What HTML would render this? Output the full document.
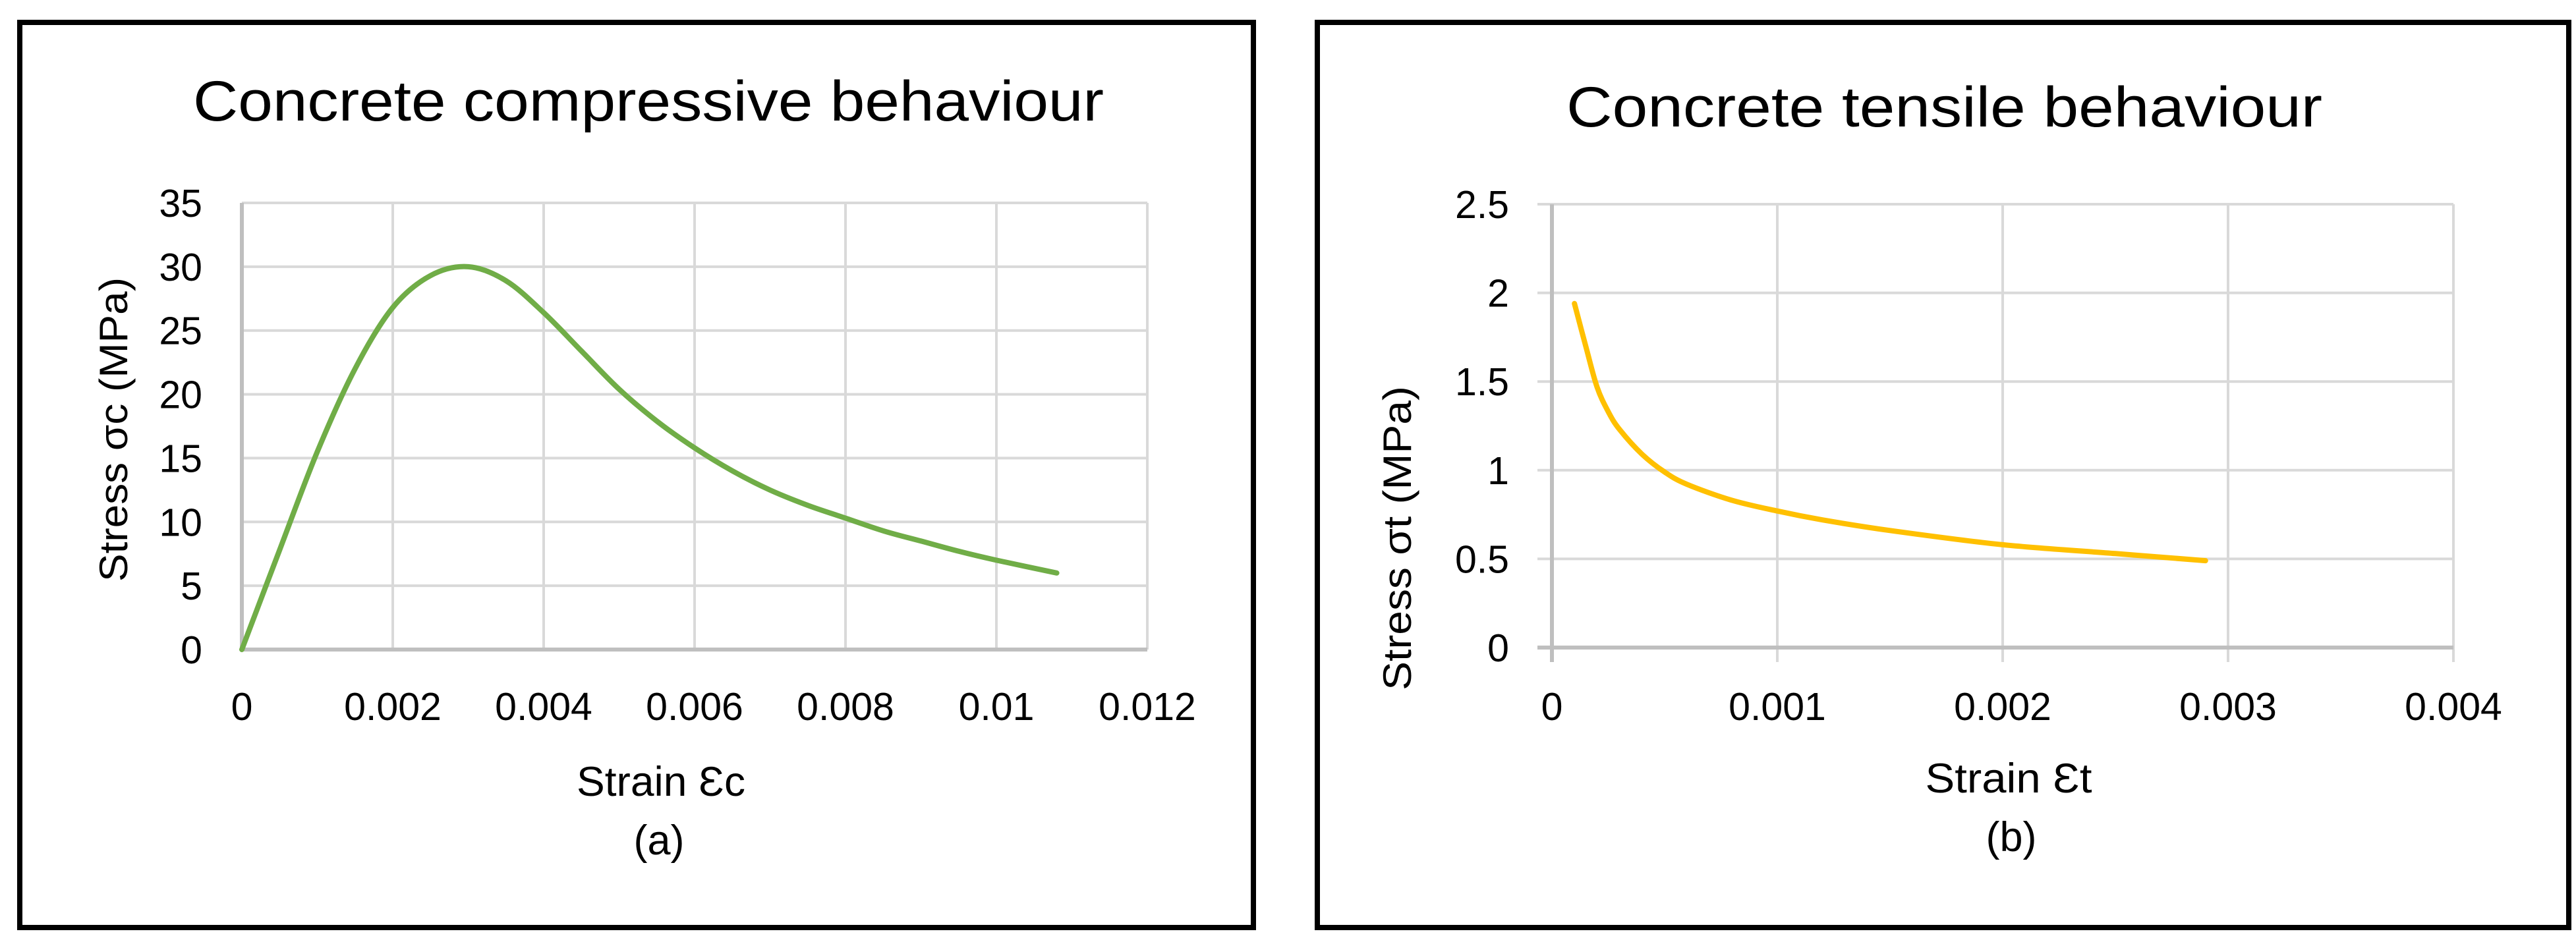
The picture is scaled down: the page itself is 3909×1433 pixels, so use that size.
<!DOCTYPE html>
<html><head><meta charset="utf-8"><style>
html,body{margin:0;padding:0;background:#fff;}
svg{display:block;font-family:"Liberation Sans",sans-serif;}
</style></head><body>
<svg id="fig" width="3909" height="1433" viewBox="0 0 3909 1433" xmlns="http://www.w3.org/2000/svg">
<rect x="30" y="34" width="1872" height="1374" fill="#fff" stroke="#000" stroke-width="8"/>
<rect x="1999" y="34" width="1899" height="1374" fill="#fff" stroke="#000" stroke-width="8"/>
<text x="293" y="183" font-size="86" textLength="1382" lengthAdjust="spacingAndGlyphs" fill="#000">Concrete compressive behaviour</text>
<text x="2377" y="192" font-size="86" textLength="1147" lengthAdjust="spacingAndGlyphs" fill="#000">Concrete tensile behaviour</text>
<text transform="translate(193,652) rotate(-90)" text-anchor="middle" font-size="60" textLength="462" lengthAdjust="spacingAndGlyphs" fill="#000">Stress σc (MPa)</text>
<text transform="translate(2141,817) rotate(-90)" text-anchor="middle" font-size="60" textLength="462" lengthAdjust="spacingAndGlyphs" fill="#000">Stress σt (MPa)</text>
<text x="1003" y="1208" text-anchor="middle" font-size="63" textLength="256" lengthAdjust="spacingAndGlyphs" fill="#000">Strain Ɛc</text>
<text x="1000" y="1297" text-anchor="middle" font-size="63" fill="#000">(a)</text>
<text x="3048" y="1203" text-anchor="middle" font-size="63" textLength="253" lengthAdjust="spacingAndGlyphs" fill="#000">Strain Ɛt</text>
<text x="3052" y="1292" text-anchor="middle" font-size="63" fill="#000">(b)</text>
<g id="ga"></g>
<g id="gb"></g>
</svg>
<script>
const aStrain = [0,0.0005,0.001,0.0015,0.002,0.0025,0.003,0.0035,0.004,0.0045,0.005,0.0055,0.006,0.0065,0.007,0.0075,0.008,0.0085,0.009,0.0095,0.01,0.0108];
const aStress = [0,7.8,15.5,22,26.8,29.3,30,28.9,26.4,23.4,20.4,17.9,15.8,14,12.5,11.3,10.3,9.3,8.5,7.7,7,6];
const aXTicks = ["0","0.002","0.004","0.006","0.008","0.01","0.012"];
const aYTicks = ["0","5","10","15","20","25","30","35"];
const bStrain = [0.0001,0.00015,0.0002,0.00025,0.0003,0.0004,0.0005,0.0006,0.0008,0.001,0.0012,0.0015,0.002,0.0025,0.0029];
const bStress = [1.94,1.7,1.47,1.33,1.23,1.09,0.99,0.92,0.83,0.77,0.72,0.66,0.58,0.53,0.49];
const bXTicks = ["0","0.001","0.002","0.003","0.004"];
const bYTicks = ["0","0.5","1","1.5","2","2.5"];
const NS="http://www.w3.org/2000/svg";
function mk(tag,attrs,parent){const e=document.createElementNS(NS,tag);for(const k in attrs)e.setAttribute(k,attrs[k]);parent.appendChild(e);return e;}
function smoothPath(P){
  let d='M'+P[0][0].toFixed(1)+','+P[0][1].toFixed(1);
  for(let i=0;i<P.length-1;i++){
    const p0=P[Math.max(0,i-1)],p1=P[i],p2=P[i+1],p3=P[Math.min(P.length-1,i+2)];
    const c1=[p1[0]+(p2[0]-p0[0])/6,p1[1]+(p2[1]-p0[1])/6];
    const c2=[p2[0]-(p3[0]-p1[0])/6,p2[1]-(p3[1]-p1[1])/6];
    d+=' C'+c1[0].toFixed(1)+','+c1[1].toFixed(1)+' '+c2[0].toFixed(1)+','+c2[1].toFixed(1)+' '+p2[0].toFixed(1)+','+p2[1].toFixed(1);
  }
  return d;
}
function chart(g,o){
  const sx=v=>o.x0+(v-o.xmin)/(o.xmax-o.xmin)*(o.x1-o.x0);
  const sy=v=>o.y0-(v-o.ymin)/(o.ymax-o.ymin)*(o.y0-o.y1);
  o.yt.forEach((t,i)=>{const v=o.ymin+i*(o.ymax-o.ymin)/(o.yt.length-1);const y=sy(v);
    if(i>0){const l=mk('line',{x1:o.x0-o.tick,x2:o.x1,y1:y,y2:y,stroke:'#d9d9d9','stroke-width':4},g);
      
      }
    const tx=mk('text',{x:o.ylx,y:y+21,'text-anchor':'end','font-size':59,fill:'#000'},g);tx.textContent=t;
    
    });
  o.xt.forEach((t,i)=>{const v=o.xmin+i*(o.xmax-o.xmin)/(o.xt.length-1);const x=sx(v);
    if(i>0){const l=mk('line',{x1:x,x2:x,y1:o.y1,y2:o.y0+o.tick,stroke:'#d9d9d9','stroke-width':4},g);
      
      }
    const tx=mk('text',{x:x,y:1093,'text-anchor':'middle','font-size':59,fill:'#000'},g);tx.textContent=t;
    
    });
  const ax=mk('line',{x1:o.x0,x2:o.x1,y1:o.y0,y2:o.y0,stroke:'#bfbfbf','stroke-width':6},g);
  
  
  const ay=mk('line',{x1:o.x0,x2:o.x0,y1:o.y1,y2:o.y0+o.tick,stroke:'#bfbfbf','stroke-width':6},g);
  
  
  if(o.tick>0){const tk=mk('line',{x1:o.x0-o.tick,x2:o.x0,y1:o.y0,y2:o.y0,stroke:'#bfbfbf','stroke-width':6},g);
    
    }
  const P=o.xs.map((v,i)=>[sx(v),sy(o.ys[i])]);
  const p=mk('path',{d:smoothPath(P),fill:'none',stroke:o.color,'stroke-width':8,'stroke-linejoin':'round','stroke-linecap':'round'},g);
  
  
}
chart(document.getElementById('ga'),{x0:367,x1:1741,y0:986,y1:308,xmin:0,xmax:0.012,ymin:0,ymax:35,xt:aXTicks,yt:aYTicks,xs:aStrain,ys:aStress,color:'#70ad47',ylx:307,tick:0,name:'compressive-curve'});
chart(document.getElementById('gb'),{x0:2355,x1:3723,y0:983,y1:310,xmin:0,xmax:0.004,ymin:0,ymax:2.5,xt:bXTicks,yt:bYTicks,xs:bStrain,ys:bStress,color:'#ffc000',ylx:2290,tick:22,name:'tensile-curve'});
</script>
</body></html>
